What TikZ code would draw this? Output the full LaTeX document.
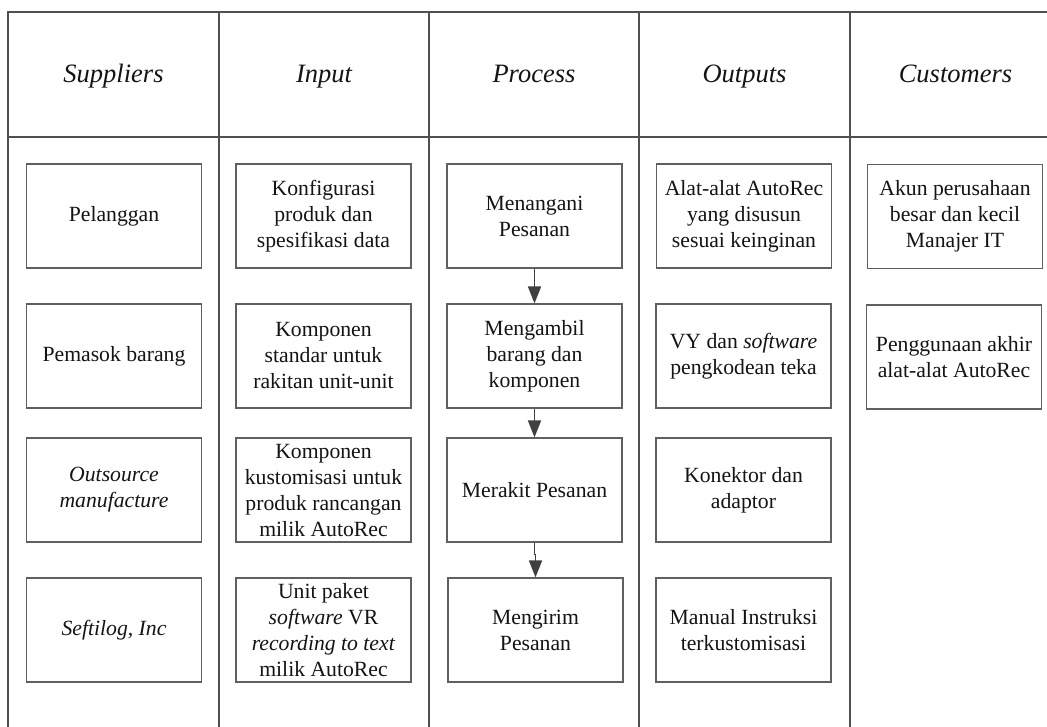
\documentclass[tikz,border=0pt]{standalone}
\usepackage{fontspec}
\setmainfont{Liberation Serif}
\usetikzlibrary{arrows.meta}
\definecolor{framegray}{HTML}{505050}
\definecolor{boxgray}{HTML}{606060}
\definecolor{inkdark}{HTML}{141414}
\definecolor{arrowgray}{HTML}{404040}
\tikzset{
  cell/.style={draw=boxgray, line width=1.2pt, minimum width=175pt, minimum height=104pt,
    inner sep=0pt, align=center, text=inkdark, font=\fontsize{21.7}{26}\selectfont},
  head/.style={inner sep=0pt, anchor=base, text=inkdark, font=\fontsize{26.5}{32}\selectfont\itshape},
  flow/.style={draw=arrowgray, line width=1.7pt, -{Triangle[width=13pt,length=17pt]}},
  grid/.style={draw=framegray, line width=1.6pt}
}
\begin{document}
\begin{tikzpicture}[x=1pt,y=-1pt]
\clip (0,0) rectangle (1047,727);
\fill[white] (0,0) rectangle (1047,727);
% table frame (continues past the right and bottom edges)
\draw[grid] (8,12) rectangle (1061,760);
\draw[grid] (8,137) -- (1061,137);
\foreach \x in {219,429,639,850} \draw[grid] (\x,12) -- (\x,760);
% column headings, all on one baseline
\node[head] (hs) at (113.5,83) {Suppliers};
\node[head] (hi) at (324,83) {Input};
\node[head] (hp) at (534,83) {Process};
\node[head] (ho) at (744.5,83) {Outputs};
\node[head] (hc) at (955.5,83) {Customers};
% suppliers
\node[cell] (s1) at (114,216) {Pelanggan};
\node[cell] (s2) at (114,356) {Pemasok barang};
\node[cell] (s3) at (114,490) {\itshape Outsource\\\itshape manufacture};
\node[cell] (s4) at (114,630) {\itshape Seftilog, Inc};
% inputs
\node[cell] (i1) at (323.5,216) {Konfigurasi\\produk dan\\spesifikasi data};
\node[cell] (i2) at (323.5,356) {Komponen\\standar untuk\\rakitan unit-unit};
\node[cell] (i3) at (323.5,490) {Komponen\\kustomisasi untuk\\produk rancangan\\milik AutoRec};
\node[cell] (i4) at (323.5,630) {Unit paket\\\textit{software} VR\\\textit{recording to text}\\milik AutoRec};
% process
\node[cell] (p1) at (534.5,216) {Menangani\\Pesanan};
\node[cell] (p2) at (534.5,356) {Mengambil\\barang dan\\komponen};
\node[cell] (p3) at (534.5,490) {Merakit Pesanan};
\node[cell] (p4) at (535.5,630) {Mengirim\\Pesanan};
% outputs
\node[cell] (o1) at (744,216) {Alat-alat AutoRec\\yang disusun\\sesuai keinginan};
\node[cell] (o2) at (743.5,356) {VY dan \textit{software}\\pengkodean teka};
\node[cell] (o3) at (743.5,490) {Konektor dan\\adaptor};
\node[cell] (o4) at (743.5,630) {Manual Instruksi\\terkustomisasi};
% customers
\node[cell] (c1) at (955,216.5) {Akun perusahaan\\besar dan kecil\\Manajer IT};
\node[cell] (c2) at (954,357) {Penggunaan akhir\\alat-alat AutoRec};
% process flow
\draw[flow] (p1) -- (p2);
\draw[flow] (p2) -- (p3);
\draw[flow] (p3.south) -- ++(0,12) -| (p4.north);
\end{tikzpicture}
\end{document}
